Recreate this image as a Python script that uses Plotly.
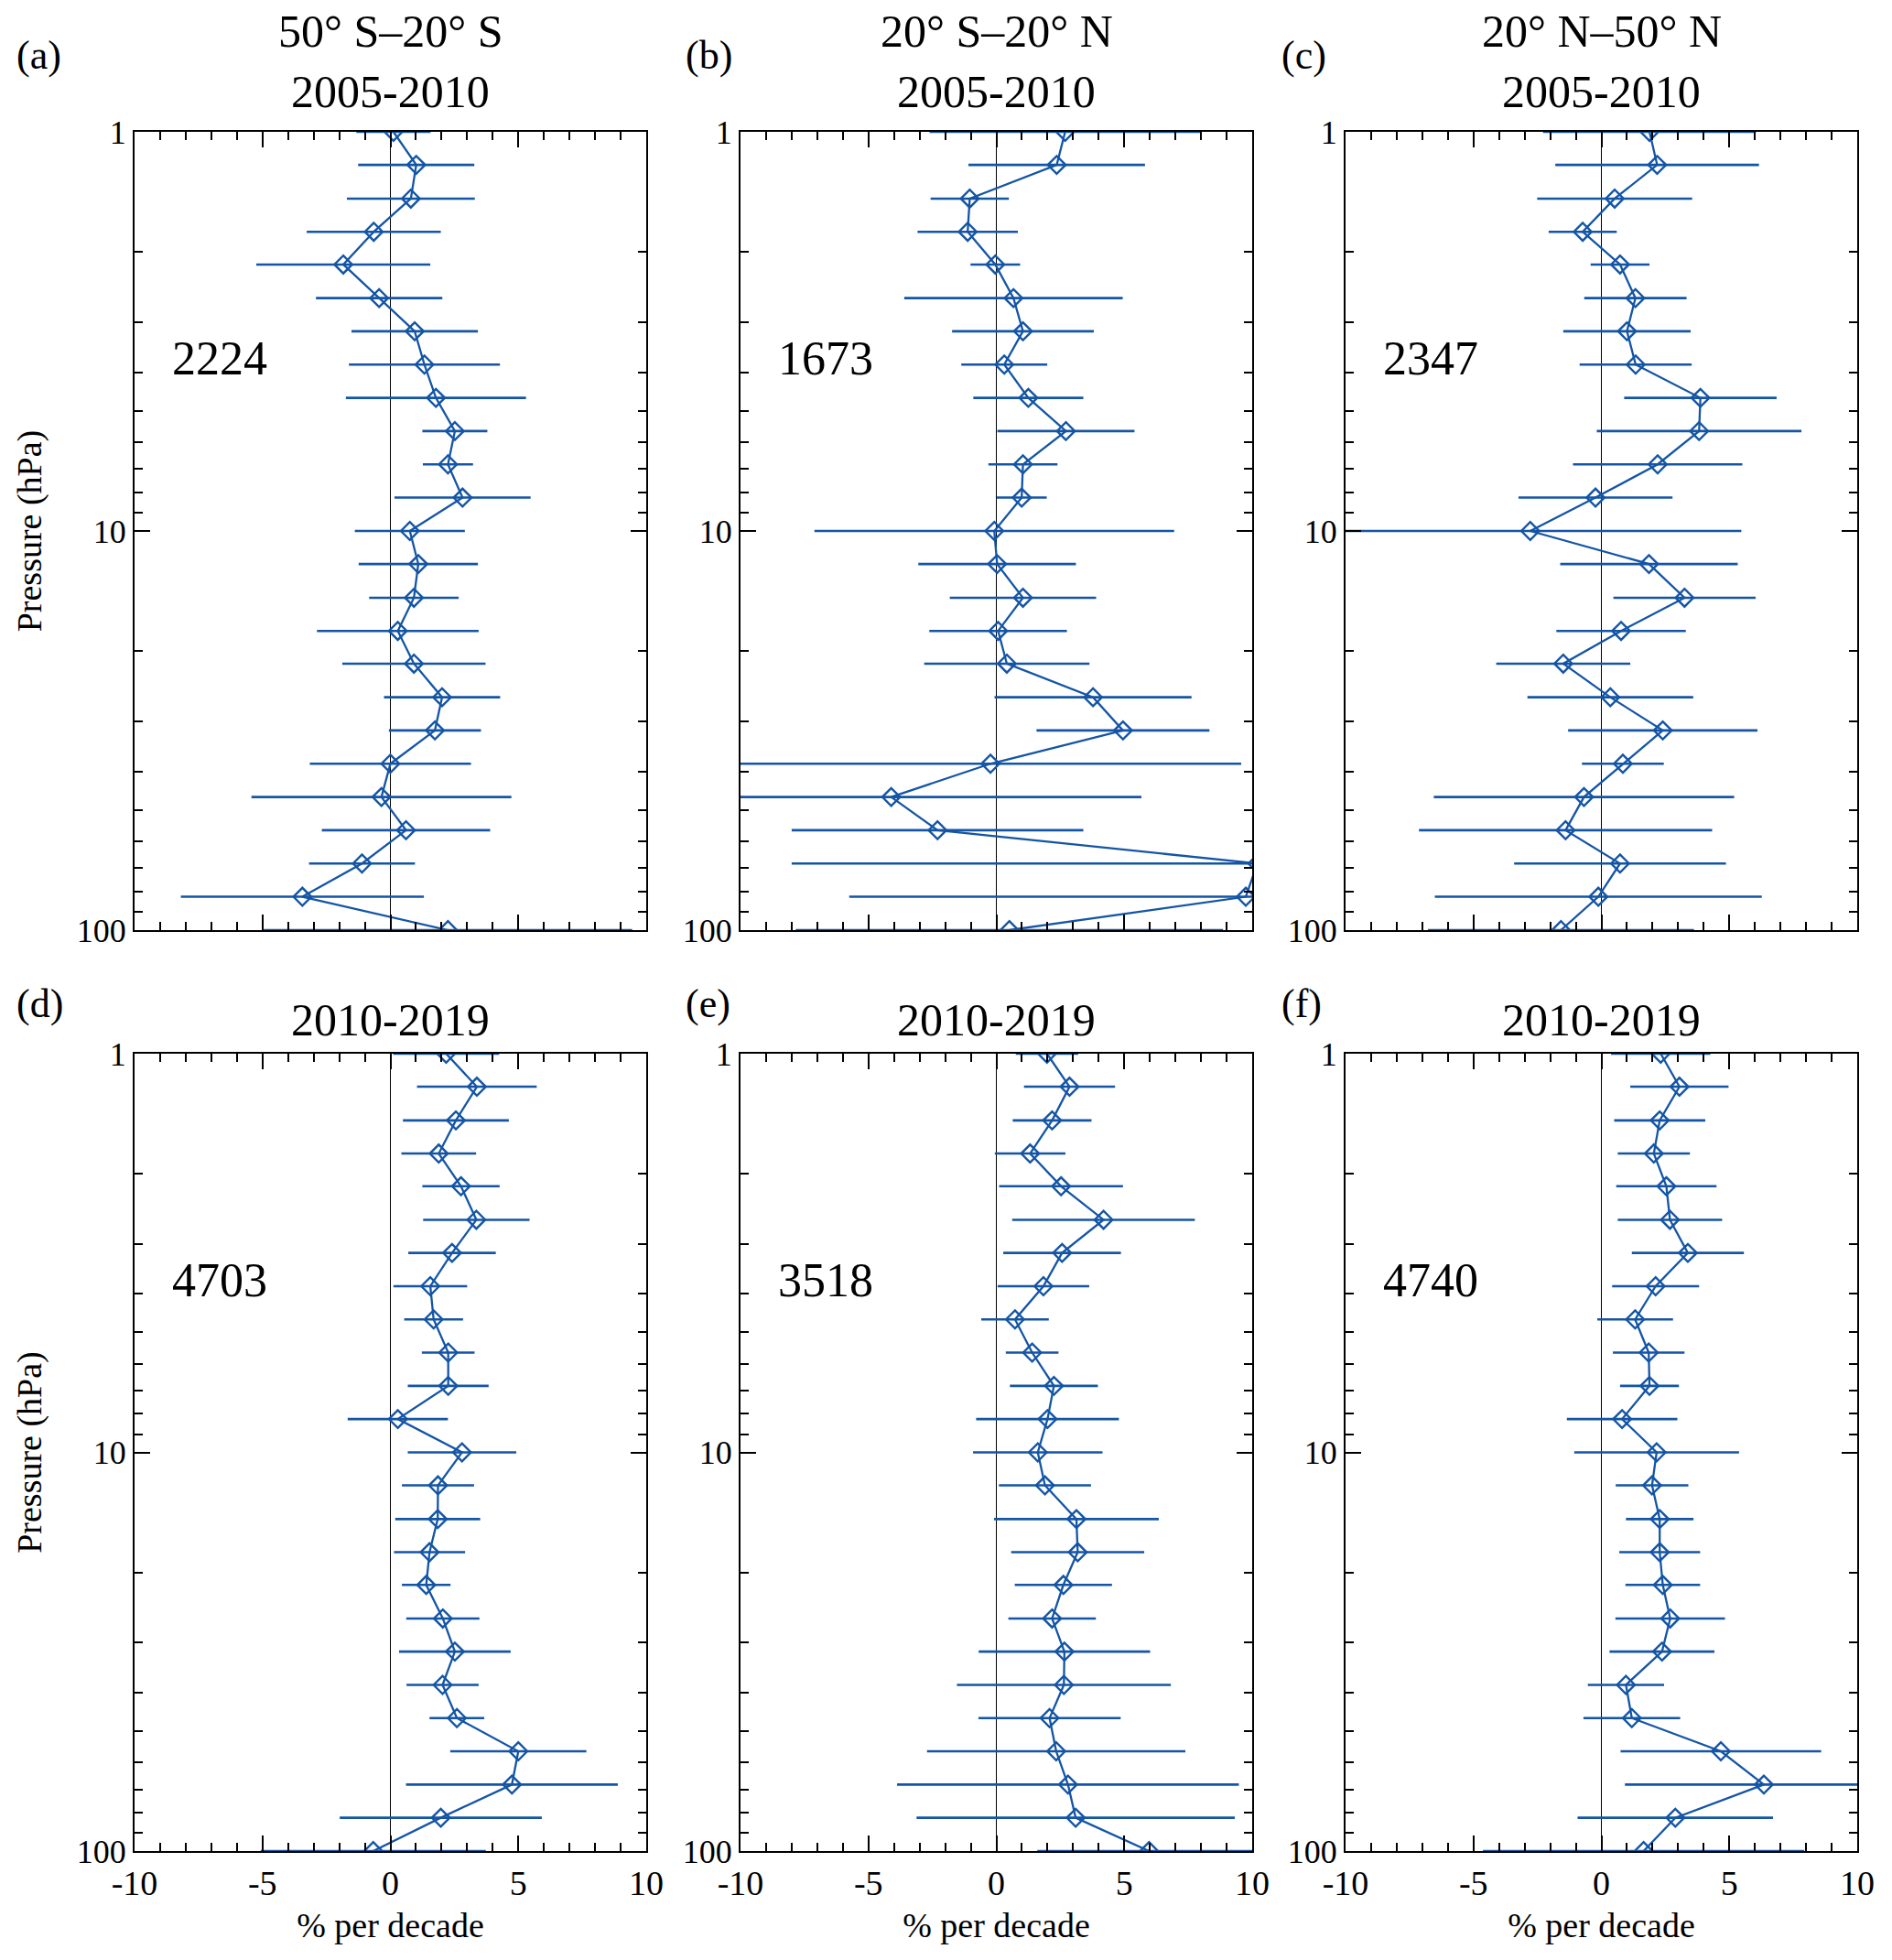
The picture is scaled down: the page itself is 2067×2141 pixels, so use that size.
import plotly.graph_objects as go
import math

# Pressure levels (hPa)
pressure = [1.0, 1.21, 1.47, 1.78, 2.15, 2.61, 3.16, 3.83, 4.64, 5.62, 6.81, 8.25,
            10.0, 12.1, 14.7, 17.8, 21.5, 26.1, 31.6, 38.3, 46.4, 56.2, 68.1, 82.5, 100.0]

# Trends (% per decade) and uncertainties
trend_a = [0.12, 1.01, 0.80, -0.65, -1.84, -0.44, 0.95, 1.33, 1.78, 2.52, 2.25, 2.82,
           0.76, 1.09, 0.92, 0.29, 0.92, 2.02, 1.74, 0.00, -0.35, 0.61, -1.11, -3.44, 2.25]
err_a = [1.45, 2.27, 2.50, 2.62, 3.40, 2.47, 2.47, 2.95, 3.52, 1.27, 0.98, 2.66,
         2.15, 2.33, 1.75, 3.16, 2.80, 2.27, 1.80, 3.15, 5.08, 3.29, 2.07, 4.75, 7.20]

trend_b = [2.69, 2.36, -1.04, -1.12, -0.04, 0.67, 1.04, 0.31, 1.25, 2.72, 1.04, 0.99,
           -0.08, 0.03, 1.04, 0.07, 0.41, 3.78, 4.95, -0.23, -4.11, -2.30, 10.2, 9.75, 0.51]
err_b = [5.30, 3.45, 1.53, 1.96, 0.97, 4.27, 2.77, 1.68, 2.15, 2.68, 1.35, 0.98,
         7.03, 3.08, 2.86, 2.69, 3.23, 3.85, 3.38, 9.80, 9.78, 5.70, 18.2, 15.5, 8.35]

trend_c = [1.88, 2.18, 0.52, -0.73, 0.73, 1.33, 1.00, 1.34, 3.87, 3.82, 2.20, -0.23,
           -2.78, 1.86, 3.25, 0.77, -1.49, 0.35, 2.40, 0.84, -0.68, -1.40, 0.73, -0.12, -1.58]
err_c = [4.16, 3.98, 3.03, 1.33, 1.15, 2.00, 2.49, 2.19, 2.98, 4.00, 3.31, 3.01,
         8.25, 3.47, 2.78, 2.53, 2.62, 3.24, 3.70, 1.60, 5.87, 5.73, 4.14, 6.39, 5.20]

trend_d = [2.18, 3.38, 2.56, 1.89, 2.76, 3.36, 2.41, 1.56, 1.69, 2.26, 2.26, 0.29,
           2.80, 1.86, 1.85, 1.53, 1.40, 2.05, 2.52, 2.04, 2.60, 5.00, 4.75, 1.97, -0.67]
err_d = [2.07, 2.34, 2.07, 1.46, 1.51, 2.08, 1.71, 1.44, 1.15, 1.03, 1.58, 1.96,
         2.12, 1.41, 1.66, 1.39, 0.95, 1.43, 2.18, 1.41, 1.07, 2.66, 4.14, 3.95, 4.40]

trend_e = [1.98, 2.86, 2.18, 1.32, 2.53, 4.19, 2.57, 1.84, 0.73, 1.40, 2.25, 2.00,
           1.62, 1.90, 3.13, 3.18, 2.62, 2.18, 2.66, 2.64, 2.08, 2.34, 2.80, 3.10, 5.97]
err_e = [1.22, 1.78, 1.54, 1.38, 2.42, 3.57, 2.30, 1.79, 1.32, 1.03, 1.72, 2.79,
         2.53, 1.80, 3.22, 2.60, 1.90, 1.71, 3.35, 4.18, 2.78, 5.05, 6.68, 6.22, 4.37]

trend_f = [2.32, 3.05, 2.28, 2.05, 2.54, 2.68, 3.38, 2.12, 1.32, 1.85, 1.88, 0.81,
           2.16, 1.98, 2.28, 2.28, 2.40, 2.69, 2.37, 0.96, 1.19, 4.67, 6.35, 2.89, 1.65]
err_f = [1.94, 1.92, 1.78, 1.41, 1.96, 2.04, 2.19, 1.70, 1.48, 1.40, 1.15, 2.16,
         3.22, 1.42, 1.32, 1.58, 1.46, 2.14, 2.05, 1.49, 1.89, 3.92, 5.43, 3.82, 6.28]

counts = ["2224", "1673", "2347", "4703", "3518", "4740"]
panel_letters = ["(a)", "(b)", "(c)", "(d)", "(e)", "(f)"]
regions = ["50° S–20° S", "20° S–20° N", "20° N–50° N"]
period_top = "2005-2010"
period_bottom = "2010-2019"

x_tickvals = [-10, -5, 0, 5, 10]
x_ticktext = ["-10", "-5", "0", "5", "10"]
x_minor = [-9, -8, -7, -6, -4, -3, -2, -1, 1, 2, 3, 4, 6, 7, 8, 9]
y_tickvals = [1, 10, 100]
y_ticktext = ["1", "10", "100"]
y_minor = [2, 3, 4, 5, 6, 7, 8, 9, 20, 30, 40, 50, 60, 70, 80, 90]

BLUE = "#1455a5"
FONT = "Liberation Serif"
W, H = 2067, 2141

trends = [trend_a, trend_b, trend_c, trend_d, trend_e, trend_f]
errs = [err_a, err_b, err_c, err_d, err_e, err_f]

col_px = [(147, 706), (809, 1368), (1470, 2029)]
row_px = [(144, 1016), (1151, 2022)]

fig = go.Figure()
layout = dict(width=W, height=H, margin=dict(l=0, r=0, t=0, b=0, pad=0, autoexpand=False),
              paper_bgcolor="white", plot_bgcolor="white", showlegend=False,
              font=dict(family=FONT, color="black", size=38))
annotations = []

for i in range(6):
    r, c = divmod(i, 3)
    n = i + 1
    xa = "xaxis" if n == 1 else f"xaxis{n}"
    ya = "yaxis" if n == 1 else f"yaxis{n}"
    xr = "x" if n == 1 else f"x{n}"
    yr = "y" if n == 1 else f"y{n}"
    fig.add_trace(go.Scatter(
        x=trends[i], y=pressure, xaxis=xr, yaxis=yr, mode="lines+markers",
        line=dict(color=BLUE, width=2.3),
        marker=dict(symbol="diamond-open", size=15, color=BLUE, line=dict(width=2.4, color=BLUE)),
        error_x=dict(type="data", array=errs[i], symmetric=True, color=BLUE, thickness=2.6, width=0),
    ))
    x0, x1 = col_px[c]
    y0, y1 = row_px[r]
    layout[xa] = dict(
        domain=[x0 / W, x1 / W], anchor=yr, range=[-10, 10], automargin=False,
        tickmode="array", tickvals=x_tickvals, ticktext=x_ticktext,
        ticks="inside", ticklen=17, tickwidth=2, tickcolor="black",
        showline=True, linewidth=2, linecolor="black", mirror="ticks",
        showgrid=False, zeroline=True, zerolinecolor="black", zerolinewidth=1.3,
        showticklabels=(r == 1), tickfont=dict(family=FONT, size=38),
        minor=dict(tickmode="array", tickvals=x_minor, ticks="inside", ticklen=9,
                   tickwidth=2, tickcolor="black", showgrid=False),
        title=dict(text="% per decade" if r == 1 else "", font=dict(family=FONT, size=38), standoff=13),
    )
    layout[ya] = dict(
        domain=[1 - y1 / H, 1 - y0 / H], anchor=xr, type="log", range=[2, 0], automargin=False,
        tickmode="array", tickvals=y_tickvals, ticktext=y_ticktext,
        ticks="inside", ticklen=17, tickwidth=2, tickcolor="black",
        showline=True, linewidth=2, linecolor="black", mirror="ticks",
        showgrid=False, zeroline=False, tickfont=dict(family=FONT, size=36),
        minor=dict(tickmode="array", tickvals=y_minor, ticks="inside", ticklen=9,
                   tickwidth=2, tickcolor="black", showgrid=False),
        title=dict(text="Pressure (hPa)" if c == 0 else "", font=dict(family=FONT, size=38), standoff=26),
    )
    # count annotation
    annotations.append(dict(x=-8.6, y=math.log10(3.7), xref=xr, yref=yr, text=counts[i],
                            showarrow=False, xanchor="left", yanchor="middle",
                            font=dict(family=FONT, size=52, color="black")))
    # panel letter
    letter_x = [16, 747, 1398][c]
    letter_y = [61, 1096][r]
    annotations.append(dict(x=letter_x / W, y=1 - letter_y / H, xref="paper", yref="paper",
                            text=panel_letters[i], showarrow=False, xanchor="left", yanchor="middle",
                            font=dict(family=FONT, size=44, color="black")))
    xc = (x0 + x1) / 2 / W
    if r == 0:
        annotations.append(dict(x=xc, y=1 - 34 / H, xref="paper", yref="paper", text=regions[c],
                                showarrow=False, xanchor="center", yanchor="middle",
                                font=dict(family=FONT, size=50, color="black")))
        annotations.append(dict(x=xc, y=1 - 100 / H, xref="paper", yref="paper", text=period_top,
                                showarrow=False, xanchor="center", yanchor="middle",
                                font=dict(family=FONT, size=50, color="black")))
    else:
        annotations.append(dict(x=xc, y=1 - 1114 / H, xref="paper", yref="paper", text=period_bottom,
                                showarrow=False, xanchor="center", yanchor="middle",
                                font=dict(family=FONT, size=50, color="black")))

layout["annotations"] = annotations
fig.update_layout(**layout)

fig.write_html("out.html", config={"displayModeBar": False},
               post_script="document.body.style.margin='0';document.body.style.overflow='hidden';")
